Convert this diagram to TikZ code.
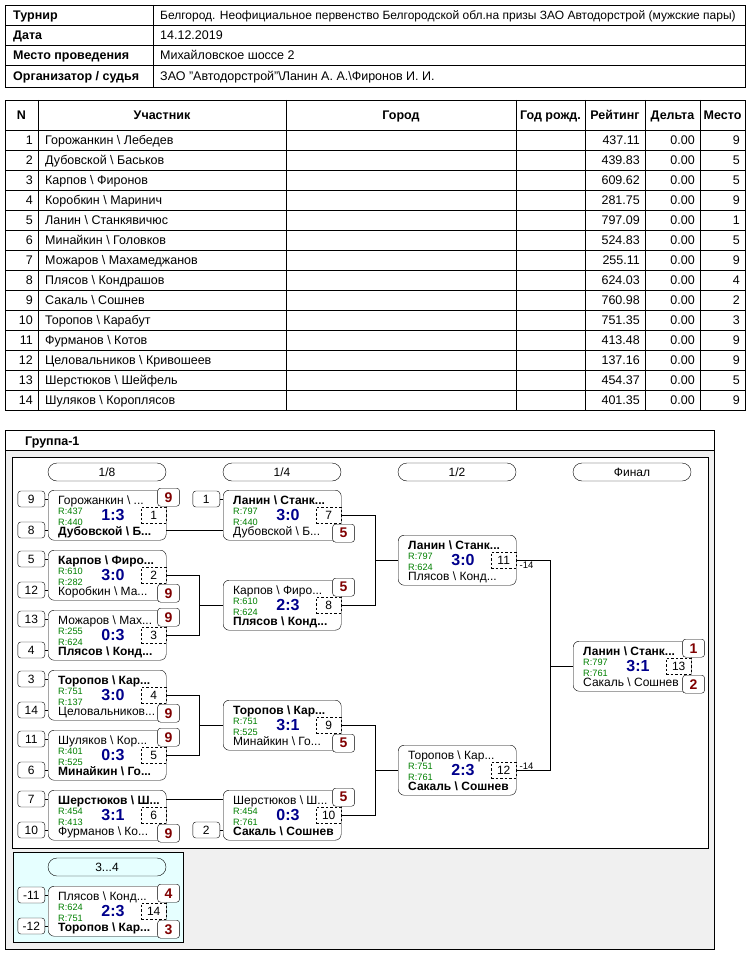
\documentclass[tikz,border=0pt]{standalone}
\usepackage{fontspec}
\setmainfont{Liberation Sans}
\usetikzlibrary{calc}

\definecolor{placered}{RGB}{128,0,0}
\definecolor{scoreblue}{RGB}{0,0,140}
\definecolor{ratinggreen}{RGB}{0,128,0}
\definecolor{panelgray}{RGB}{240,240,240}
\definecolor{bronzecyan}{RGB}{230,255,255}

\newcommand{\bs}{\textbackslash}
% one match of the bracket: name, x, y, top pair, R1, R2, bottom pair, score, match number
\newcommand{\duel}[9]{%
  \node[matchbox] (#1) at (#2,#3) {};
  \node[pname] (#1-a) at ($(#1.north west)+(10,14)$) {#4};
  \node[rating] (#1-r) at ($(#1.north west)+(10,24.5)$) {R:#5};
  \node[rating] (#1-q) at ($(#1.north west)+(10,35)$) {R:#6};
  \node[pname] (#1-b) at ($(#1.north west)+(10,45.5)$) {#7};
  \node[score] (#1-c) at ($(#1.north west)+(65,30.7)$) {#8};
  \node[numbox] (#1-n) at ($(#1.north east)+(0,25)$) {#9};
}

\begin{document}
\begin{tikzpicture}[x=1pt, y=-1pt,
        every node/.style={font=\fontsize{12.5}{13}\selectfont},
        cell/.style={inner sep=0pt},
        head/.style={inner sep=0pt, font=\bfseries\fontsize{12.5}{13}\selectfont},
        matchbox/.style={draw, fill=white, rounded corners=6pt, minimum width=118pt, minimum height=50pt, inner sep=0pt, anchor=north west},
        pname/.style={anchor=base west, inner sep=0pt, font=\fontsize{12}{12}\selectfont},
        rating/.style={anchor=base west, inner sep=0pt, text=ratinggreen, font=\fontsize{9.2}{10}\selectfont},
        score/.style={anchor=base, inner sep=0pt, text=scoreblue, font=\bfseries\fontsize{16}{16}\selectfont},
        numbox/.style={draw, dash pattern=on 2.5pt off 2pt, minimum width=25pt, minimum height=16pt, inner sep=0pt, anchor=east, font=\fontsize{12}{12}\selectfont},
        placebox/.style={draw, fill=white, rounded corners=3pt, minimum width=22pt, minimum height=18pt, inner sep=0pt, text=placered, font=\bfseries\fontsize{14}{14}\selectfont},
        seedbox/.style={draw, fill=white, rounded corners=3pt, minimum width=27pt, minimum height=16pt, inner sep=0pt, anchor=east, font=\fontsize{12}{12}\selectfont},
        pill/.style={draw, rounded corners=9pt, minimum width=118pt, minimum height=18pt, inner sep=0pt, font=\fontsize{12}{12}\selectfont},
        minus/.style={inner sep=0pt, font=\fontsize{9.5}{10}\selectfont}
    ]
    \useasboundingbox (0,0) rectangle (750,955);
    \fill[white] (0,0) rectangle (750,955);

    % tournament header
    \draw (5,5) rectangle (745,87);
    \foreach \y in {25,45,65} \draw (5,\y) -- (745,\y);
    \draw (153,5) -- (153,87);
    \node[head, anchor=base west] (h-tour) at (13,19.5) {Турнир};
    \node[head, anchor=base west] (h-date) at (13,39.5) {Дата};
    \node[head, anchor=base west] (h-venue) at (13,59.5) {Место проведения};
    \node[head, anchor=base west] (h-org) at (13,80.5) {Организатор / судья};
    \node[cell, anchor=base west, font=\fontsize{12}{13}\selectfont] (v-tour) at (160,19.5) {Белгород. Неофициальное первенство Белгородской обл.на призы ЗАО Автодорстрой (мужские пары)};
    \node[cell, anchor=base west] (v-date) at (160,39.5) {14.12.2019};
    \node[cell, anchor=base west] (v-venue) at (160,59.5) {Михайловское шоссе 2};
    \node[cell, anchor=base west] (v-org) at (160,80.5) {ЗАО "Автодорстрой"\bs{}Ланин А. А.\bs{}Фиронов И. И.};

    % participants
    \draw (5,100) rectangle (745,410);
    \foreach \y in {130,150,...,390} \draw (5,\y) -- (745,\y);
    \foreach \x in {38,286,516,585,645,700} \draw (\x,100) -- (\x,410);
    \node[head, anchor=base] (c-n) at (21.5,119.5) {N};
    \node[head, anchor=base] (c-who) at (162,119.5) {Участник};
    \node[head, anchor=base] (c-city) at (401,119.5) {Город};
    \node[head, anchor=base] (c-year) at (550.5,119.5) {Год рожд.};
    \node[head, anchor=base] (c-rt) at (615,119.5) {Рейтинг};
    \node[head, anchor=base] (c-dl) at (672.5,119.5) {Дельта};
    \node[head, anchor=base] (c-pl) at (722.5,119.5) {Место};
    \foreach \n/\who/\rt/\pl in {
        1/Горожанкин \bs{} Лебедев/437.11/9, 2/Дубовской \bs{} Баськов/439.83/5,
        3/Карпов \bs{} Фиронов/609.62/5, 4/Коробкин \bs{} Маринич/281.75/9,
        5/Ланин \bs{} Станкявичюс/797.09/1, 6/Минайкин \bs{} Головков/524.83/5,
        7/Можаров \bs{} Махамеджанов/255.11/9, 8/Плясов \bs{} Кондрашов/624.03/4,
        9/Сакаль \bs{} Сошнев/760.98/2, 10/Торопов \bs{} Карабут/751.35/3,
        11/Фурманов \bs{} Котов/413.48/9, 12/Целовальников \bs{} Кривошеев/137.16/9,
        13/Шерстюков \bs{} Шейфель/454.37/5, 14/Шуляков \bs{} Короплясов/401.35/9} {
        \node[cell, anchor=base east] (r\n-n) at (33,124.5+20*\n) {\n};
        \node[cell, anchor=base west] (r\n-who) at (45,124.5+20*\n) {\who};
        \node[cell, anchor=base east] (r\n-rt) at (640,124.5+20*\n) {\rt};
        \node[cell, anchor=base east] (r\n-dl) at (695,124.5+20*\n) {0.00};
        \node[cell, anchor=base east] (r\n-pl) at (740,124.5+20*\n) {\pl};
    }

    % group panel
    \draw[fill=panelgray] (5,430) rectangle (714,949);
    \draw[fill=white] (5,430) rectangle (714,450);
    \node[head, anchor=base west] (group) at (25,445.5) {Группа-1};
    \draw[fill=white] (12,457) rectangle (708,848);
    \draw[fill=bronzecyan] (13,852) rectangle (183,942);

    \node[pill] (r18) at (107,472) {1/8};
    \node[pill] (r14) at (282,472) {1/4};
    \node[pill] (r12) at (457,472) {1/2};
    \node[pill] (rfin) at (632,472) {Финал};
    \node[pill] (r34) at (107,867) {3...4};

    % matches
    \duel{m1}{48}{490}{Горожанкин \bs{} ...}{437}{440}{\bfseries Дубовской \bs{} Б...}{1:3}{1}
    \duel{m2}{48}{550}{\bfseries Карпов \bs{} Фиро...}{610}{282}{Коробкин \bs{} Ма...}{3:0}{2}
    \duel{m3}{48}{610}{Можаров \bs{} Мах...}{255}{624}{\bfseries Плясов \bs{} Конд...}{0:3}{3}
    \duel{m4}{48}{670}{\bfseries Торопов \bs{} Кар...}{751}{137}{Целовальников...}{3:0}{4}
    \duel{m5}{48}{730}{Шуляков \bs{} Кор...}{401}{525}{\bfseries Минайкин \bs{} Го...}{0:3}{5}
    \duel{m6}{48}{790}{\bfseries Шерстюков \bs{} Ш...}{454}{413}{Фурманов \bs{} Ко...}{3:1}{6}
    \duel{m7}{223}{490}{\bfseries Ланин \bs{} Станк...}{797}{440}{Дубовской \bs{} Б...}{3:0}{7}
    \duel{m8}{223}{580}{Карпов \bs{} Фиро...}{610}{624}{\bfseries Плясов \bs{} Конд...}{2:3}{8}
    \duel{m9}{223}{700}{\bfseries Торопов \bs{} Кар...}{751}{525}{Минайкин \bs{} Го...}{3:1}{9}
    \duel{m10}{223}{790}{Шерстюков \bs{} Ш...}{454}{761}{\bfseries Сакаль \bs{} Сошнев}{0:3}{10}
    \duel{m11}{398}{535}{\bfseries Ланин \bs{} Станк...}{797}{624}{Плясов \bs{} Конд...}{3:0}{11}
    \duel{m12}{398}{745}{Торопов \bs{} Кар...}{751}{761}{\bfseries Сакаль \bs{} Сошнев}{2:3}{12}
    \duel{m13}{573}{641}{\bfseries Ланин \bs{} Станк...}{797}{761}{Сакаль \bs{} Сошнев}{3:1}{13}
    \duel{m14}{48}{886}{Плясов \bs{} Конд...}{624}{751}{\bfseries Торопов \bs{} Кар...}{2:3}{14}

    % places of the losers
    \node[placebox, anchor=north west] (m1-p) at ($(m1.north east)+(-9,-2)$) {9};
    \node[placebox, anchor=south west] (m2-p) at ($(m2.south east)+(-9,2)$) {9};
    \node[placebox, anchor=north west] (m3-p) at ($(m3.north east)+(-9,-2)$) {9};
    \node[placebox, anchor=south west] (m4-p) at ($(m4.south east)+(-9,2)$) {9};
    \node[placebox, anchor=north west] (m5-p) at ($(m5.north east)+(-9,-2)$) {9};
    \node[placebox, anchor=south west] (m6-p) at ($(m6.south east)+(-9,2)$) {9};
    \node[placebox, anchor=south west] (m7-p) at ($(m7.south east)+(-9,2)$) {5};
    \node[placebox, anchor=north west] (m8-p) at ($(m8.north east)+(-9,-2)$) {5};
    \node[placebox, anchor=south west] (m9-p) at ($(m9.south east)+(-9,2)$) {5};
    \node[placebox, anchor=north west] (m10-p) at ($(m10.north east)+(-9,-2)$) {5};
    \node[placebox, anchor=north west] (m13-p) at ($(m13.north east)+(-9,-2)$) {1};
    \node[placebox, anchor=south west] (m13-q) at ($(m13.south east)+(-9,2)$) {2};
    \node[placebox, anchor=north west] (m14-p) at ($(m14.north east)+(-9,-2)$) {4};
    \node[placebox, anchor=south west] (m14-q) at ($(m14.south east)+(-9,2)$) {3};

    % seeds
    \node[seedbox] (sd9) at ($(m1.north west)+(-3,9)$) {9};
    \node[seedbox] (sd8) at ($(m1.north west)+(-3,40)$) {8};
    \node[seedbox] (sd5) at ($(m2.north west)+(-3,9)$) {5};
    \node[seedbox] (sd12) at ($(m2.north west)+(-3,40)$) {12};
    \node[seedbox] (sd13) at ($(m3.north west)+(-3,9)$) {13};
    \node[seedbox] (sd4) at ($(m3.north west)+(-3,40)$) {4};
    \node[seedbox] (sd3) at ($(m4.north west)+(-3,9)$) {3};
    \node[seedbox] (sd14) at ($(m4.north west)+(-3,40)$) {14};
    \node[seedbox] (sd11) at ($(m5.north west)+(-3,9)$) {11};
    \node[seedbox] (sd6) at ($(m5.north west)+(-3,40)$) {6};
    \node[seedbox] (sd7) at ($(m6.north west)+(-3,9)$) {7};
    \node[seedbox] (sd10) at ($(m6.north west)+(-3,40)$) {10};
    \node[seedbox] (sd1) at ($(m7.north west)+(-3,9)$) {1};
    \node[seedbox] (sd2) at ($(m10.north west)+(-3,40)$) {2};
    \node[seedbox] (sdm11) at ($(m14.north west)+(-3,9)$) {-11};
    \node[seedbox] (sdm12) at ($(m14.north west)+(-3,40)$) {-12};
    \foreach \s/\m in {9/m1, 8/m1, 5/m2, 12/m2, 13/m3, 4/m3, 3/m4, 14/m4,
                       11/m5, 6/m5, 7/m6, 10/m6, 1/m7, 2/m10, m11/m14, m12/m14}
        \draw (sd\s.east) -- (sd\s.east -| \m.west);

    % bracket lines
    \draw (sd8.east -| m1.east) -- (sd8.east -| m7.west);
    \draw (m2.east) -- ++(33,0) coordinate (j23) |- (m3.east);
    \draw (j23 |- m8.west) -- (m8.west);
    \draw (m4.east) -- ++(33,0) coordinate (j45) |- (m5.east);
    \draw (j45 |- m9.west) -- (m9.west);
    \draw (sd7.east -| m6.east) -- (sd7.east -| m10.west);
    \draw (m7.east) -- ++(34,0) coordinate (j78) |- (m8.east);
    \draw (j78 |- m11.west) -- (m11.west);
    \draw (m9.east) -- ++(34,0) coordinate (j910) |- (m10.east);
    \draw (j910 |- m12.west) -- (m12.west);
    \draw (m11.east) -- ++(34,0) coordinate (jfin) |- (m12.east);
    \draw (jfin |- m13.west) -- (m13.west);

    \node[minus, anchor=north west] (m11-l) at ($(m11.east)+(3,2)$) {-14};
    \node[minus, anchor=south west] (m12-l) at ($(m12.east)+(3,-1)$) {-14};

\end{tikzpicture}
\end{document}
